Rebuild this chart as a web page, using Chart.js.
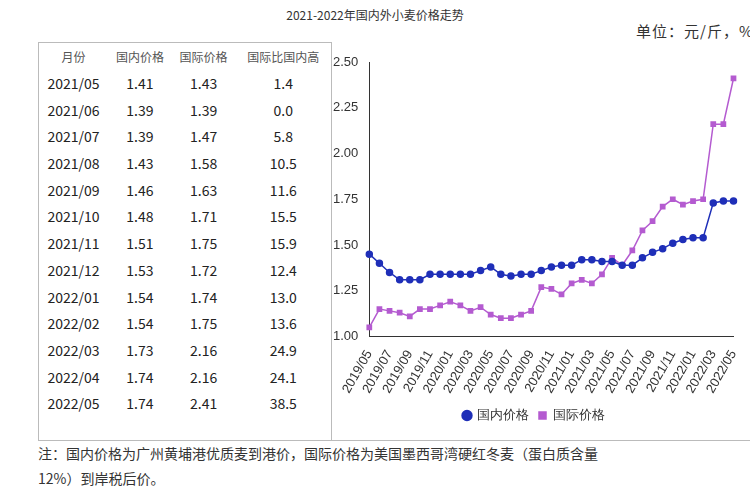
<!DOCTYPE html>
<html><head><meta charset="utf-8">
<script src="https://cdn.jsdelivr.net/npm/chart.js@4"></script>
<style>
body{margin:0;width:750px;height:500px;background:#fff;font-family:"Noto Sans CJK SC",sans-serif;position:relative;overflow:hidden}
#title{position:absolute;top:6px;left:0;width:750px;text-align:center;font-size:12px;color:#333}
#unit{position:absolute;top:20px;left:636px;font-size:15px;color:#333;white-space:nowrap;letter-spacing:1px}
#tbl{position:absolute;left:38px;top:42px;width:292px;height:398px;border:1px solid #bbb;border-bottom:none}
#tbl table{border-collapse:collapse;width:100%;font-size:14px;color:#222}
#tbl td{height:26.7px;padding:0;text-align:center}
#tbl tr:first-child td{font-size:12px;color:#555}
#wrap{position:absolute;left:330px;top:48px;width:420px;height:384px}
#note{position:absolute;left:38px;top:440px;width:720px;font-size:14px;color:#333;line-height:25px;white-space:nowrap;border-top:1px solid #bbb}
</style></head><body>
<div id="title">2021-2022年国内外小麦价格走势</div>
<div id="unit">单位：元/斤，%</div>
<div id="tbl"><table id="t"></table></div>
<div id="wrap"><canvas id="c"></canvas></div>
<div id="note">注：国内价格为广州黄埔港优质麦到港价，国际价格为美国墨西哥湾硬红冬麦（蛋白质含量<br>12%）到岸税后价。</div>
<script>
// table data
const tableMonths = ['2021/05','2021/06','2021/07','2021/08','2021/09','2021/10','2021/11','2021/12','2022/01','2022/02','2022/03','2022/04','2022/05'];
const tableDomestic = ['1.41','1.39','1.39','1.43','1.46','1.48','1.51','1.53','1.54','1.54','1.73','1.74','1.74'];
const tableIntl = ['1.43','1.39','1.47','1.58','1.63','1.71','1.75','1.72','1.74','1.75','2.16','2.16','2.41'];
const tableGap = ['1.4','0.0','5.8','10.5','11.6','15.5','15.9','12.4','13.0','13.6','24.9','24.1','38.5'];

// chart data
const domestic = [1.45,1.40,1.35,1.31,1.31,1.31,1.34,1.34,1.34,1.34,1.34,1.36,1.38,1.34,1.33,1.34,1.34,1.36,1.38,1.39,1.39,1.42,1.42,1.41,1.41,1.39,1.39,1.43,1.46,1.48,1.51,1.53,1.54,1.54,1.73,1.74,1.74];
const international = [1.05,1.15,1.14,1.13,1.11,1.15,1.15,1.17,1.19,1.17,1.14,1.16,1.12,1.10,1.10,1.12,1.14,1.27,1.26,1.23,1.29,1.31,1.29,1.34,1.43,1.39,1.47,1.58,1.63,1.71,1.75,1.72,1.74,1.75,2.16,2.16,2.41];

const labels = [];
for (let i = 0; i < 37; i++) {
  const m = 5 + i, y = 2019 + Math.floor((m - 1) / 12), mm = ((m - 1) % 12) + 1;
  labels.push(y + '/' + String(mm).padStart(2, '0'));
}

let html = '<tr><td>月份</td><td>国内价格</td><td>国际价格</td><td>国际比国内高</td></tr>';
tableMonths.forEach((m, i) => {
  html += `<tr><td>${m}</td><td>${tableDomestic[i]}</td><td>${tableIntl[i]}</td><td>${tableGap[i]}</td></tr>`;
});
document.getElementById('t').innerHTML = html;

new Chart(document.getElementById('c'), {
  type: 'line',
  data: {
    labels: labels,
    datasets: [
      { label: '国内价格', data: domestic, borderColor: '#1f2fb8', backgroundColor: '#1f2fb8', borderWidth: 1.5, pointRadius: 3, pointStyle: 'circle' },
      { label: '国际价格', data: international, borderColor: '#b45bd0', backgroundColor: '#b45bd0', borderWidth: 1.5, pointRadius: 3, pointStyle: 'rect' }
    ]
  },
  options: {
    responsive: true, maintainAspectRatio: false, animation: false,
    layout: { padding: { top: 14, right: 12 } },
    scales: {
      y: {
        min: 1, max: 2.5,
        ticks: { stepSize: 0.25, color: '#333', font: { size: 13 }, callback: v => v.toFixed(2) },
        grid: { display: false },
        border: { color: '#333' }
      },
      x: {
        ticks: { autoSkip: false, maxRotation: 60, minRotation: 60, color: '#333', font: { size: 13 },
          callback: function (v, i) { return i % 2 === 0 ? labels[i] : ''; } },
        grid: { display: false, drawTicks: true },
        border: { color: '#333' }
      }
    },
    plugins: {
      legend: { position: 'bottom', labels: { usePointStyle: true, boxWidth: 7, boxHeight: 7, color: '#333', font: { size: 13 } } },
      tooltip: { enabled: false }
    }
  }
});
</script>
</body></html>
